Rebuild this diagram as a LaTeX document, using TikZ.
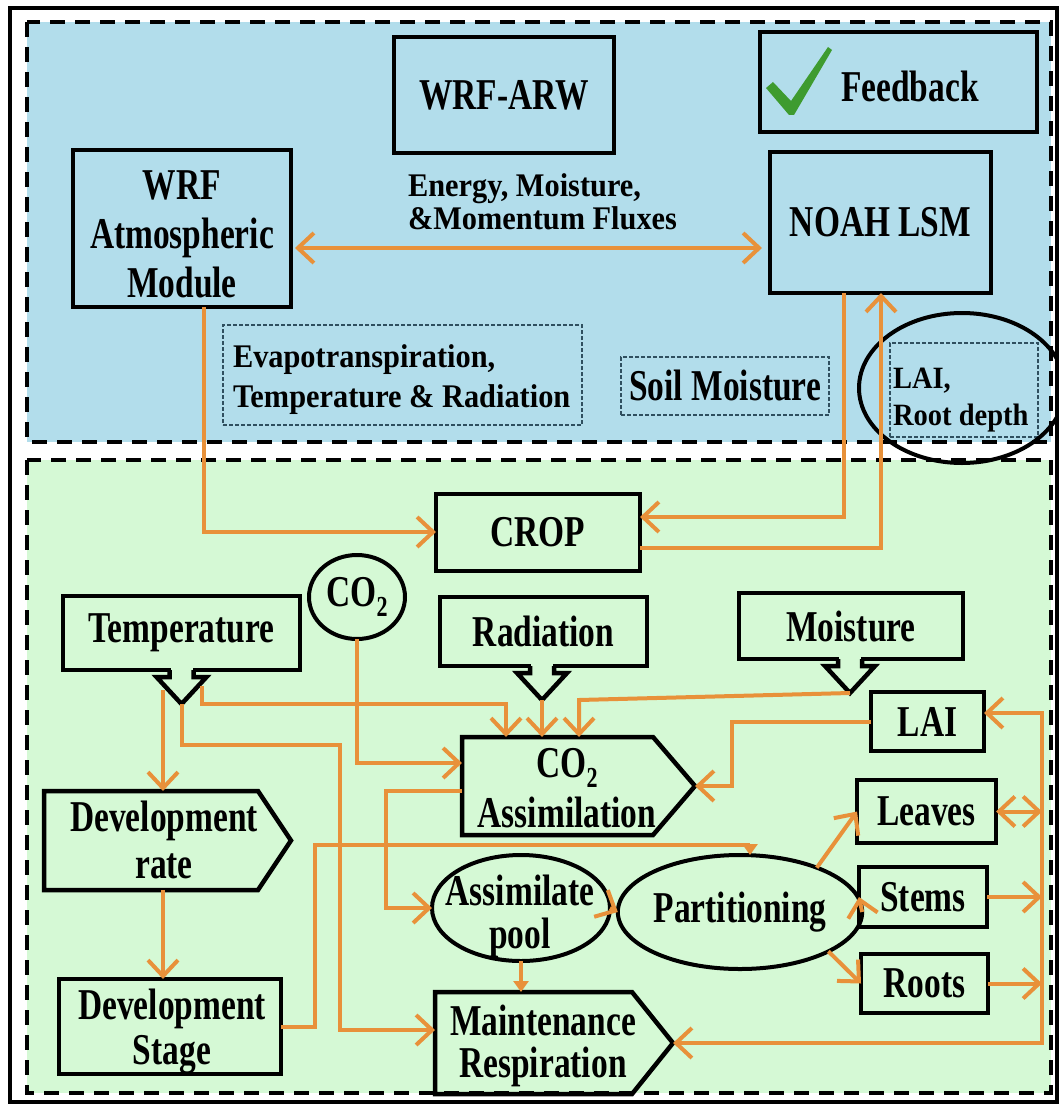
\documentclass[tikz,border=0pt]{standalone}
\usepackage{fontspec}
\setmainfont{Liberation Serif}
\newfontfamily\lblfont{Liberation Serif}[FakeStretch=0.76]
\newfontfamily\smfont{Liberation Serif}[FakeStretch=0.92]
\usetikzlibrary{arrows.meta,shapes.geometric,calc}
\definecolor{bgblue}{HTML}{B2DDEB}
\definecolor{bggreen}{HTML}{D5F9D5}
\definecolor{flowc}{HTML}{E8913A}
\definecolor{dotc}{HTML}{2F4F5F}
\definecolor{checkc}{HTML}{3E9B2F}
\newcommand\calloutarrow[2]{%
  \fill[bggreen] ({#1-11},{#2-3}) rectangle ({#1+11},{#2+3});
  \draw[black, line width=4.5pt, line join=miter] ({#1-12},{#2}) -- ({#1-12},{#2+7}) -- ({#1-25},{#2+7}) -- ({#1},{#2+34}) -- ({#1+25},{#2+7}) -- ({#1+12},{#2+7}) -- ({#1+12},{#2});
}
\newcommand\cosub{CO\raisebox{-10pt}{\fontsize{29}{29}\selectfont 2}}
\begin{document}
\begin{tikzpicture}[x=1pt,y=-1pt,
  >={Straight Barb[length=16pt,width=30pt]},
  every node/.style={inner sep=0pt, outer sep=0pt},
  boxst/.style={draw=black, line width=4.5pt, rectangle},
  ellst/.style={draw=black, line width=4pt, ellipse},
  plainbox/.style={rectangle},
  bigtxt/.style={font=\lblfont\bfseries\fontsize{44}{47}\selectfont, align=center},
  smalltxt/.style={font=\smfont\bfseries\fontsize{33}{33}\selectfont, align=left},
  dotbox/.style={draw=dotc, line width=1.3pt, dash pattern=on 4pt off 2pt},
  region/.style={draw=black, line width=4pt, dash pattern=on 15pt off 10pt},
  flow/.style={draw=flowc, line width=4pt, ->},
  smalltip/.style={-{Triangle[length=11pt,width=15pt]}}
]
\useasboundingbox (0,0) rectangle (1058,1105);
\fill[white] (0,0) rectangle (1058,1105);
% regions
\fill[bgblue] (27,22) rectangle (1051,442);
\draw[region] (27,22) rectangle (1051,442);
\fill[bggreen] (27,460) rectangle (1051,1093);
\draw[region] (27,460) rectangle (1051,1093);
\draw[black, line width=3.5pt] (10,8) rectangle (1057,1102);

% ---------- upper part ----------
\node[boxst, minimum width=220pt, minimum height=116pt, bigtxt] (wrfarw) at (504,95) {WRF-ARW};
\node[boxst, minimum width=277pt, minimum height=100pt] (feedback) at (898.5,82) {};
\node[bigtxt] (fbtext) at (910,86) {Feedback};
\fill[checkc] (766,88) -- (773,82) -- (791,101) -- (828,47) -- (832,50) -- (794,115) -- (789,115) -- cycle;
\node[boxst, minimum width=221pt, minimum height=141pt, bigtxt] (noah) at (880.5,222.5) {NOAH LSM};
\node[boxst, minimum width=218pt, minimum height=157pt] (wrfatm) at (182,228.5) {};
\node[bigtxt, font=\lblfont\bfseries\fontsize{44}{49}\selectfont] (wrfatmtext) at (182,234) {WRF\\Atmospheric\\Module};
\node[smalltxt, anchor=west] (flux) at (408,202) {Energy, Moisture,\\\&Momentum Fluxes};
\node[dotbox, minimum width=359pt, minimum height=100pt] (evapo) at (402.5,375) {};
\node[smalltxt, font=\smfont\bfseries\fontsize{33}{40}\selectfont, anchor=west] (evapotext) at (233,380) {Evapotranspiration,\\Temperature \& Radiation};
\node[dotbox, minimum width=208pt, minimum height=58pt, bigtxt] (soil) at (725,386) {Soil Moisture};
\node[dotbox, minimum width=148pt, minimum height=94pt] (laird) at (964,390) {};
\node[smalltxt, font=\smfont\bfseries\fontsize{31}{37}\selectfont, anchor=west] (lairdtext) at (893,400) {LAI,\\Root depth};
\node[ellst, minimum width=206pt, minimum height=150pt] (laiell) at (962,388) {};

\draw[flow, <->] ($(wrfatm.east |- 0,248)+(4,0)$) -- ($(noah.west |- 0,248)+(-8,0)$);

% ---------- lower part ----------
\node[boxst, minimum width=204pt, minimum height=77pt, bigtxt] (crop) at (538,532.5) {CROP};
\node[ellst, minimum width=96pt, minimum height=84pt, bigtxt] (co2) at (357,597) {\cosub};
\node[boxst, minimum width=237pt, minimum height=74pt, bigtxt] (temp) at (181.5,633) {Temperature};
\calloutarrow{181.5}{670}
\node[boxst, minimum width=207pt, minimum height=69pt, bigtxt] (rad) at (543.5,631.5) {Radiation};
\calloutarrow{542}{666}
\node[boxst, minimum width=224pt, minimum height=66pt, bigtxt] (moist) at (851,626) {Moisture};
\calloutarrow{850}{659}
\coordinate (templ) at (163,690);
\coordinate (temptip) at (181.5,704);
\coordinate (tempr) at (202,686);
\coordinate (radtip) at (542,700);
\coordinate (moisttip) at (850,693);
\node[boxst, minimum width=113pt, minimum height=59pt, bigtxt] (lai) at (927.5,721.5) {LAI};

\node[plainbox, minimum width=191pt, minimum height=98pt] (co2a) at (557.5,786) {};
\coordinate (co2atip) at ($(co2a.east)+(42,0)$);
\draw[black, line width=4.5pt, line join=miter] (co2a.north west) -- (co2a.north east) -- (co2atip) -- (co2a.south east) -- (co2a.south west) -- cycle;
\node[bigtxt, font=\lblfont\bfseries\fontsize{44}{50}\selectfont] (co2atext) at (567,788) {\cosub\\Assimilation};

\node[plainbox, minimum width=214pt, minimum height=99pt] (devrate) at (151,840.5) {};
\coordinate (devratetip) at ($(devrate.east)+(33,0)$);
\draw[black, line width=4.5pt, line join=miter] (devrate.north west) -- (devrate.north east) -- (devratetip) -- (devrate.south east) -- (devrate.south west) -- cycle;
\node[bigtxt] (devratetext) at (164,840) {Development\\rate};

\node[boxst, minimum width=222pt, minimum height=95pt] (devstage) at (170,1026.5) {};
\node[bigtxt, font=\lblfont\bfseries\fontsize{44}{45}\selectfont] (devstagetext) at (172,1032) {Development\\Stage};

\node[ellst, minimum width=178pt, minimum height=106pt] (pool) at (521,908) {};
\node[bigtxt, font=\lblfont\bfseries\fontsize{44}{43}\selectfont] (pooltext) at (520,916) {Assimilate\\pool};
\node[ellst, minimum width=194pt, minimum height=114pt, bigtxt] (part) at (740,912) {Partitioning};

\node[boxst, minimum width=139pt, minimum height=63pt, bigtxt] (leaves) at (926.5,811.5) {Leaves};
\node[boxst, minimum width=128pt, minimum height=60pt, bigtxt] (stems) at (923,897) {Stems};
\node[boxst, minimum width=127pt, minimum height=59pt, bigtxt] (roots) at (924.5,983.5) {Roots};

\node[plainbox, minimum width=197pt, minimum height=102pt] (maint) at (533.5,1043) {};
\coordinate (mainttip) at ($(maint.east)+(41,0)$);
\draw[black, line width=4.5pt, line join=miter] (maint.north west) -- (maint.north east) -- (mainttip) -- (maint.south east) -- (maint.south west) -- cycle;
\node[bigtxt, font=\lblfont\bfseries\fontsize{44}{42}\selectfont] (mainttext) at (543,1046) {Maintenance\\Respiration};

% ---------- connectors ----------
\draw[flow] (wrfatm.south -| 204,0) |- (crop.west |- 0,532);
\draw[flow] (noah.south -| 844,0) |- (crop.east |- 0,517);
\draw[flow] (crop.east |- 0,548) -| (noah.south -| 881,0);

\draw[flow] (templ) -- (devrate.north -| templ);
\draw[flow] (devrate.south -| templ) -- (devstage.north -| templ);
\draw[flow] (temptip) |- (340,745) |- (maint.west |- 0,1030);
\draw[flow] (tempr) |- (506,704) -- (co2a.north -| 506,0);
\draw[flow] (radtip) -- (co2a.north -| radtip);
\draw[flow] (moisttip) -- (579,700) -- (co2a.north -| 579,0);
\draw[flow] (co2.south) |- (co2a.west |- 0,763);
\draw[flow] (lai.west) -| (732,786) -- (co2atip);
\draw[flow] (co2a.west |- 0,791) -| (386,908) -- (pool.west);
\draw[flow, smalltip] (devstage.east) -| (315,845) -| (part.north -| 750,0);
\draw[flow] (pool.east) -- (part.west);
\draw[flow, smalltip] (pool.south) -- (maint.north -| pool.south);
\draw[flow] (part.30) -- (leaves.west);
\draw[flow] (part.east) -- (stems.west);
\draw[flow] (part.-24) -- (roots.west);
\coordinate (bustop) at (1042,713);
\coordinate (busbot) at (1042,1043);
\draw[flow, <->] (leaves.east) -- (leaves.east -| bustop);
\draw[flow] (stems.east) -- (stems.east -| bustop);
\draw[flow] (roots.east) -- (roots.east -| bustop);
\draw[flow, <->] (lai.east |- bustop) -| (busbot) -- (mainttip);
\end{tikzpicture}
\end{document}
